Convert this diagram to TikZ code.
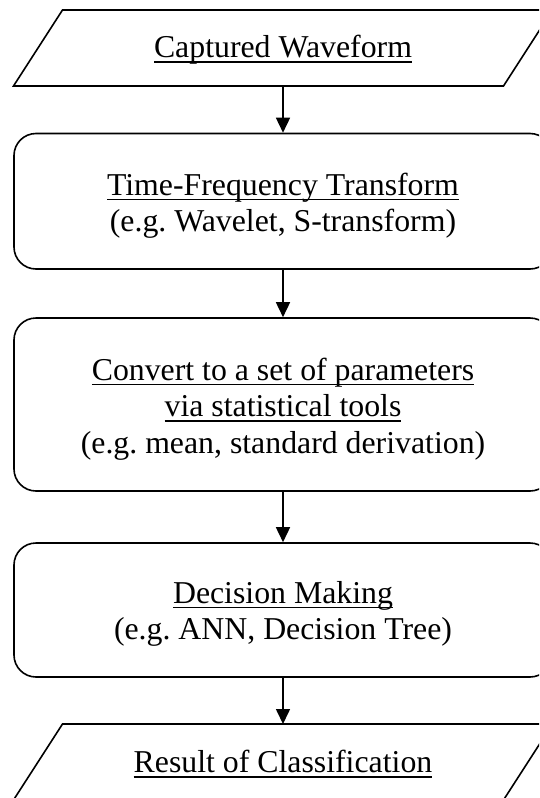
\documentclass[tikz,border=0pt]{standalone}
\usepackage{fontspec}
\setmainfont{Liberation Serif}
\usetikzlibrary{arrows.meta}
\frenchspacing

% underline a whole phrase (spaces included) at a fixed depth below the baseline
\newsavebox\ulinebox
\newcommand\ulphrase[1]{\sbox\ulinebox{#1}\rlap{\rule[-5pt]{\wd\ulinebox}{1.6pt}}\usebox\ulinebox}

\begin{document}
\begin{tikzpicture}[x=1pt,y=-1pt,
  outline/.style={draw=black,line width=1.6pt,line join=miter},
  procbox/.style={outline,rectangle,rounded corners=22pt,minimum width=538pt,inner sep=0pt},
  steptext/.style={align=center,inner sep=0pt,font=\fontsize{31.8}{36.5}\selectfont},
  flow/.style={line width=1.6pt,-{Triangle[length=15pt,width=14pt]}}]

\useasboundingbox (0,0) rectangle (539,798);
\clip (0,0) rectangle (539,798);

% input: captured waveform
\draw[outline] (13.5,86) -- (62.5,10) -- (552.5,10) -- (503.5,86) -- cycle;
\node[steptext] (wave) at (283,50.1) {\ulphrase{Captured Waveform}};
\coordinate (wavebot) at (283,86);

% processing steps
\node[procbox,minimum height=135.5pt] (b1) at (283,201.25) {};
\node[steptext] (t1) at (283,205.8)
  {\ulphrase{Time-Frequency Transform}\\(e.g. Wavelet, S-transform)};

\node[procbox,minimum height=173pt] (b2) at (283,404.5) {};
\node[steptext] (t2) at (283,409)
  {\ulphrase{Convert to a set of parameters}\\\ulphrase{via statistical tools}\\(e.g. mean, standard derivation)};

\node[procbox,minimum height=134pt] (b3) at (283,610) {};
\node[steptext] (t3) at (283,614)
  {\ulphrase{Decision Making}\\(e.g. ANN, Decision Tree)};

% output: classification result
\draw[outline] (13.5,800) -- (62.5,724) -- (552.5,724) -- (503.5,800) -- cycle;
\node[steptext] (result) at (283,764) {\ulphrase{Result of Classification}};
\coordinate (resulttop) at (283,724);

% flow arrows
\draw[flow] (wavebot) -- (b1);
\draw[flow] (b1) -- (b2);
\draw[flow] (b2) -- (b3);
\draw[flow] (b3) -- (resulttop);

\end{tikzpicture}
\end{document}
